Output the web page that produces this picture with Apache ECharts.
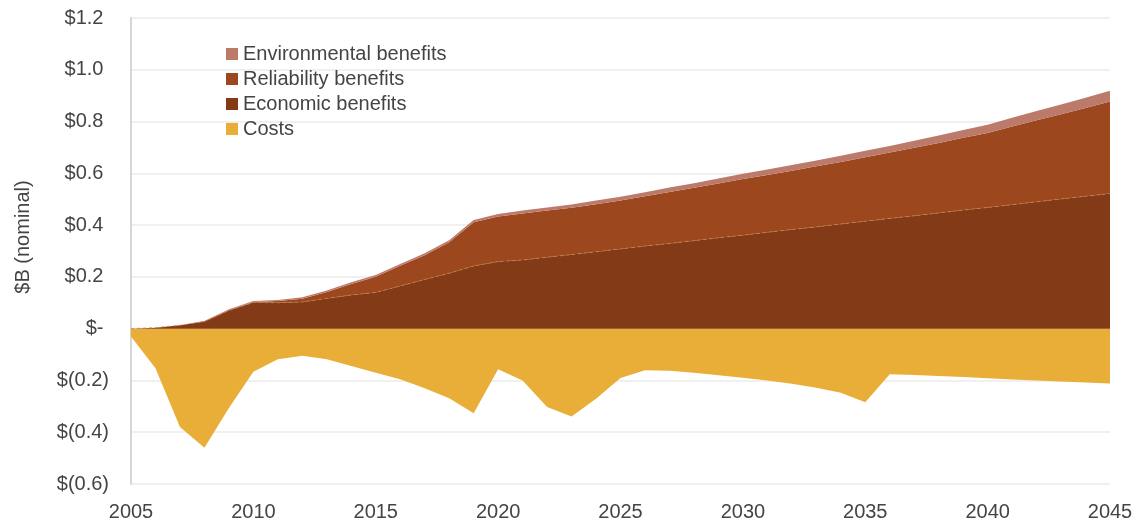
<!DOCTYPE html>
<html>
<head>
<meta charset="utf-8">
<script src="https://cdn.jsdelivr.net/npm/echarts@6/dist/echarts.min.js"></script>
<style>
html,body{margin:0;padding:0;background:#fff;}
#chart{width:1141px;height:526px;}
</style>
</head>
<body>
<div id="chart"></div>
<script>
const years = ['2005','2006','2007','2008','2009','2010','2011','2012','2013','2014','2015','2016','2017','2018','2019','2020','2021','2022','2023','2024','2025','2026','2027','2028','2029','2030','2031','2032','2033','2034','2035','2036','2037','2038','2039','2040','2041','2042','2043','2044','2045'];

const economic = [0,0.004,0.013,0.027,0.070,0.101,0.100,0.103,0.117,0.130,0.140,0.165,0.190,0.214,0.242,0.259,0.265,0.276,0.286,0.297,0.308,0.319,0.329,0.340,0.351,0.361,0.372,0.383,0.393,0.404,0.415,0.426,0.436,0.447,0.458,0.468,0.479,0.490,0.501,0.511,0.522];

const reliability = [0,0,0,0.003,0.002,0.002,0.007,0.013,0.025,0.043,0.061,0.078,0.094,0.120,0.169,0.174,0.180,0.180,0.181,0.184,0.187,0.192,0.199,0.204,0.210,0.217,0.222,0.227,0.234,0.240,0.247,0.254,0.263,0.270,0.279,0.288,0.302,0.315,0.327,0.341,0.355];

const environmental = [0,0,0,0,0.003,0.004,0.004,0.005,0.005,0.006,0.006,0.007,0.007,0.008,0.009,0.010,0.011,0.012,0.013,0.014,0.015,0.016,0.017,0.018,0.019,0.020,0.021,0.022,0.023,0.024,0.025,0.026,0.027,0.029,0.030,0.032,0.034,0.036,0.038,0.040,0.042];

const costs = [-0.030,-0.153,-0.380,-0.460,-0.306,-0.166,-0.118,-0.105,-0.118,-0.144,-0.170,-0.195,-0.230,-0.269,-0.327,-0.157,-0.200,-0.303,-0.339,-0.271,-0.191,-0.161,-0.163,-0.170,-0.180,-0.190,-0.200,-0.213,-0.228,-0.248,-0.284,-0.176,-0.179,-0.183,-0.187,-0.192,-0.196,-0.200,-0.204,-0.208,-0.212];

const seriesNames = ['Environmental benefits','Reliability benefits','Economic benefits','Costs'];
const yTicks = {min:-0.6, max:1.2, interval:0.2};
const xLabelEvery = 5;

const FONT = "'Liberation Sans', Arial, Helvetica, sans-serif";
const TXT = '#444444';

function yFmt(v){
  if (Math.abs(v) < 1e-9) return '$- ';
  if (v < 0) return '$(' + Math.abs(v).toFixed(1) + ')';
  return '$' + v.toFixed(1) + ' ';
}

function areaSeries(name, data, color, stack, line, z){
  const s = {name:name, type:'line', data:data, showSymbol:false, symbol:'none',
    lineStyle: line || {width:0}, itemStyle:{color:color}, areaStyle:{color:color, opacity:1}, z: z || 2};
  if (stack) s.stack = stack;
  return s;
}

const chart = echarts.init(document.getElementById('chart'), null, {renderer:'canvas'});
chart.setOption({
  animation:false,
  backgroundColor:'#ffffff',
  grid:{left:131, right:31, top:18, bottom:42, containLabel:false},
  legend:{
    orient:'vertical', left:221, top:39, itemGap:5,
    itemWidth:12, itemHeight:12, icon:'rect',
    data:seriesNames,
    textStyle:{fontFamily:FONT, fontSize:20, color:TXT}
  },
  xAxis:{
    type:'category', data:years, boundaryGap:false,
    axisLine:{show:false, onZero:false}, axisTick:{show:false}, splitLine:{show:false},
    axisLabel:{fontFamily:FONT, fontSize:20, color:TXT, margin:18, interval:xLabelEvery-1, showMaxLabel:true}
  },
  yAxis:{
    type:'value', min:yTicks.min, max:yTicks.max, interval:yTicks.interval,
    name:'$B (nominal)', nameLocation:'middle', nameGap:98,
    nameTextStyle:{fontFamily:FONT, fontSize:20, color:TXT, padding:[0,0,0,28]},
    axisLine:{show:true, lineStyle:{color:'#d6d6d6', width:2}},
    axisTick:{show:false},
    splitLine:{show:true, lineStyle:{color:'#ebebeb', width:1.5}},
    axisLabel:{fontFamily:FONT, fontSize:20, color:TXT, margin:22, formatter:yFmt}
  },
  series:[
    areaSeries('Costs', costs, '#E9AE37'),
    areaSeries('Economic benefits', economic, '#823A17', 'b',
      {width:1, type:[3,3], color:'#C98345', opacity:0.8}, 3),
    areaSeries('Reliability benefits', reliability, '#9D471E', 'b'),
    areaSeries('Environmental benefits', environmental, '#BC7A6A', 'b')
  ]
});
</script>
</body>
</html>
